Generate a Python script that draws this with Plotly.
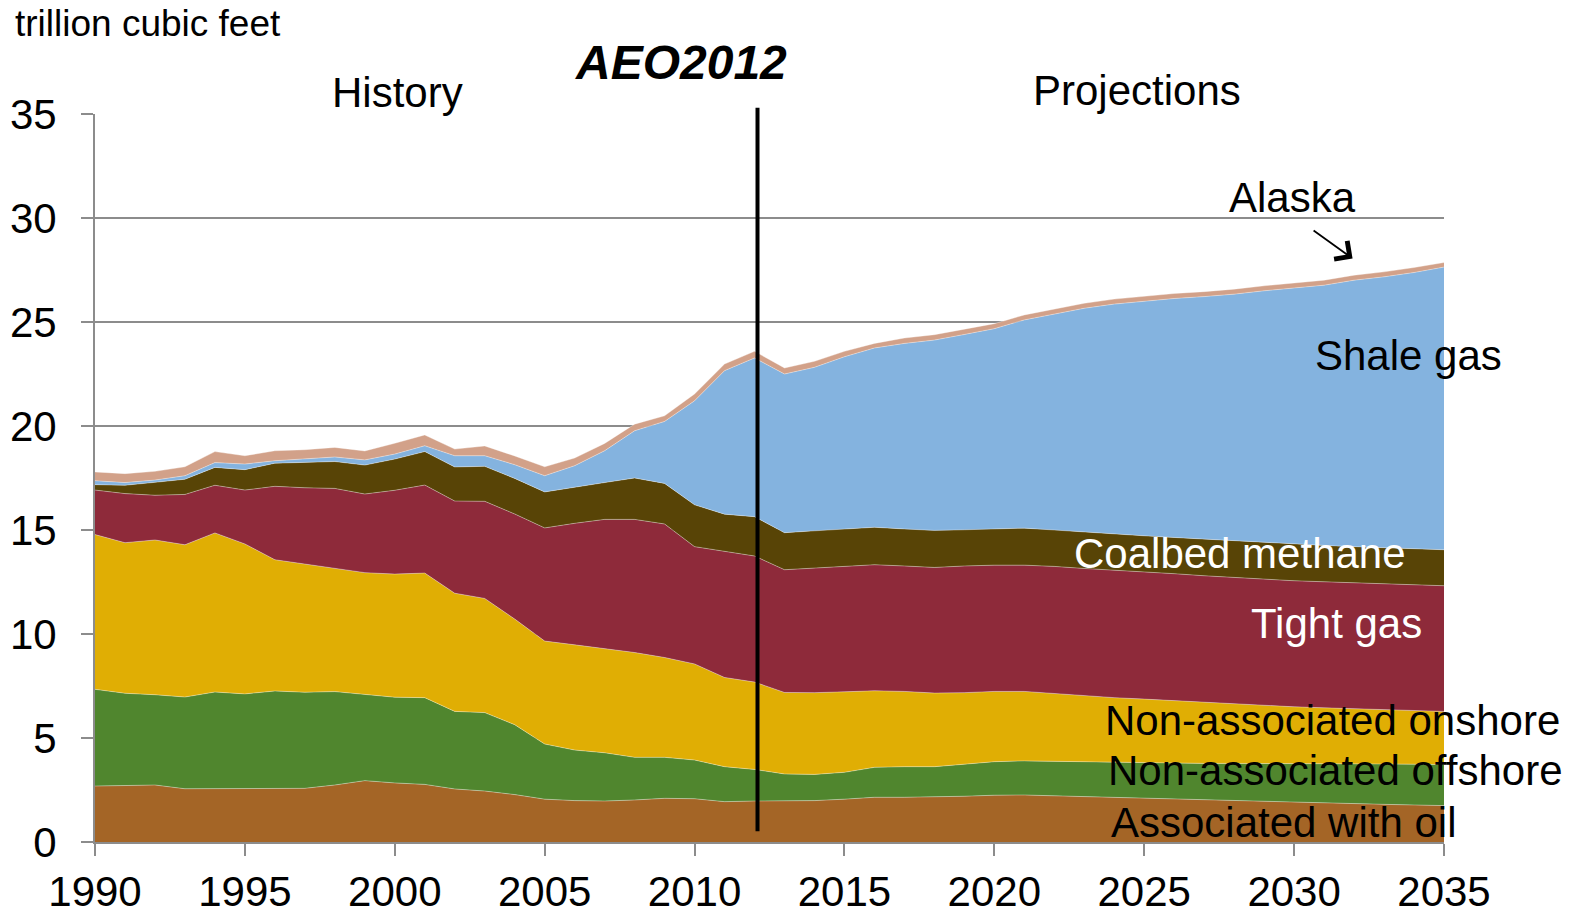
import plotly.graph_objects as go

years = list(range(1990, 2036))

associated_with_oil = [2.69, 2.71, 2.74, 2.56, 2.56, 2.56, 2.55, 2.58, 2.74, 2.95,
                       2.84, 2.77, 2.55, 2.45, 2.28, 2.06, 1.99, 1.97, 2.02, 2.10,
                       2.08, 1.94, 1.97, 1.97, 1.99, 2.06, 2.15, 2.15, 2.16, 2.20,
                       2.25, 2.26, 2.22, 2.18, 2.14, 2.10, 2.06, 2.02, 1.98, 1.94,
                       1.90, 1.87, 1.84, 1.81, 1.78, 1.75]
non_assoc_offshore = [4.65, 4.44, 4.34, 4.41, 4.65, 4.56, 4.71, 4.62, 4.49, 4.15,
                      4.12, 4.17, 3.73, 3.77, 3.36, 2.65, 2.43, 2.32, 2.05, 1.97,
                      1.86, 1.68, 1.52, 1.30, 1.26, 1.29, 1.44, 1.47, 1.46, 1.54,
                      1.61, 1.64, 1.66, 1.66, 1.67, 1.69, 1.72, 1.76, 1.80, 1.84,
                      1.88, 1.90, 1.92, 1.94, 1.96, 1.97]
non_assoc_onshore = [7.44, 7.24, 7.44, 7.32, 7.65, 7.21, 6.31, 6.17, 5.93, 5.85,
                     5.92, 5.99, 5.68, 5.49, 5.08, 4.95, 5.06, 5.01, 5.04, 4.80,
                     4.62, 4.29, 4.20, 3.92, 3.93, 3.87, 3.68, 3.62, 3.54, 3.44,
                     3.38, 3.34, 3.26, 3.18, 3.13, 3.08, 3.01, 2.93, 2.85, 2.79,
                     2.72, 2.68, 2.64, 2.61, 2.58, 2.56]
tight_gas = [2.14, 2.36, 2.15, 2.42, 2.29, 2.59, 3.53, 3.66, 3.84, 3.78,
             4.03, 4.23, 4.43, 4.67, 5.05, 5.44, 5.84, 6.21, 6.40, 6.42,
             5.64, 6.06, 6.06, 5.90, 5.99, 6.05, 6.06, 6.03, 6.04, 6.09,
             6.07, 6.07, 6.11, 6.13, 6.13, 6.13, 6.11, 6.09, 6.08, 6.06,
             6.06, 6.06, 6.06, 6.05, 6.04, 6.04]
coalbed_methane = [0.26, 0.40, 0.62, 0.73, 0.86, 0.98, 1.11, 1.22, 1.29, 1.39,
                   1.50, 1.61, 1.64, 1.68, 1.71, 1.73, 1.72, 1.77, 1.99, 1.95,
                   2.01, 1.79, 1.89, 1.78, 1.79, 1.79, 1.80, 1.78, 1.78, 1.74,
                   1.74, 1.78, 1.75, 1.75, 1.73, 1.72, 1.74, 1.76, 1.77, 1.77,
                   1.76, 1.75, 1.74, 1.73, 1.72, 1.73]
shale_gas = [0.19, 0.13, 0.11, 0.17, 0.23, 0.27, 0.12, 0.16, 0.22, 0.25,
             0.24, 0.28, 0.54, 0.51, 0.66, 0.78, 1.05, 1.53, 2.27, 2.98,
             5.00, 6.90, 7.63, 7.63, 7.86, 8.27, 8.62, 8.92, 9.15, 9.39,
             9.63, 10.01, 10.38, 10.76, 11.06, 11.27, 11.49, 11.66, 11.86, 12.10,
             12.31, 12.51, 12.81, 13.03, 13.30, 13.59]
alaska = [0.42, 0.43, 0.42, 0.43, 0.53, 0.40, 0.48, 0.45, 0.46, 0.43,
          0.52, 0.52, 0.32, 0.47, 0.42, 0.43, 0.37, 0.35, 0.32, 0.27,
          0.33, 0.32, 0.32, 0.29, 0.29, 0.26, 0.22, 0.26, 0.26, 0.25,
          0.24, 0.24, 0.24, 0.24, 0.24, 0.24, 0.24, 0.24, 0.24, 0.24,
          0.24, 0.24, 0.24, 0.24, 0.24, 0.22]

series_names = ["Associated with oil", "Non-associated offshore", "Non-associated onshore",
                "Tight gas", "Coalbed methane", "Shale gas", "Alaska"]
series_values = [associated_with_oil, non_assoc_offshore, non_assoc_onshore,
                 tight_gas, coalbed_methane, shale_gas, alaska]
series_colors = ["#A46526", "#50862E", "#E0AE04", "#8E2A3A", "#584406", "#84B3DF", "#D2A189"]

x_ticks = list(range(1990, 2036, 5))
y_ticks = list(range(0, 36, 5))

FONT = "Liberation Sans, Arial, sans-serif"
FS = 42

fig = go.Figure()
for name, vals, col in zip(series_names, series_values, series_colors):
    fig.add_trace(go.Scatter(
        x=years, y=vals, name=name, mode="lines", stackgroup="one",
        fillcolor=col, line=dict(color="rgba(255,255,255,0.35)", width=1),
        showlegend=False, hoverinfo="x+y+name",
    ))

fig.update_layout(
    width=1575, height=911,
    margin=dict(l=95, r=131, t=114, b=69),
    paper_bgcolor="white", plot_bgcolor="white",
    font=dict(family=FONT, size=FS, color="black"),
    showlegend=False,
)
fig.update_xaxes(
    range=[1990, 2035], tickvals=x_ticks, ticktext=[str(v) for v in x_ticks],
    showgrid=False, zeroline=False, showline=True, linecolor="#8c8c8c", linewidth=2,
    ticks="outside", ticklen=12, tickwidth=2, tickcolor="#8c8c8c",
    tickfont=dict(family=FONT, size=FS, color="black"), automargin=False,
)
fig.update_yaxes(
    range=[0, 35], tickvals=y_ticks, ticktext=[str(v) for v in y_ticks],
    showgrid=True, gridcolor="#8c8c8c", gridwidth=2, zeroline=False,
    showline=True, linecolor="#8c8c8c", linewidth=2,
    ticks="outside", ticklen=12, tickwidth=2, tickcolor="#8c8c8c",
    tickfont=dict(family=FONT, size=FS, color="black"), automargin=False,
    ticklabelstandoff=16,
)

# AEO2012 divider line
fig.add_shape(type="line", xref="x", yref="paper", x0=2012.1, x1=2012.1,
              y0=0.0147, y1=1.0085, line=dict(color="black", width=4))

def txt(text, x, y, size=FS, color="black", xanchor="left", bold_italic=False, xref="x", yref="y"):
    t = f"<b><i>{text}</i></b>" if bold_italic else text
    fig.add_annotation(text=t, x=x, y=y, xref=xref, yref=yref, showarrow=False,
                       xanchor=xanchor, yanchor="middle",
                       font=dict(family=FONT, size=size, color=color))

txt("trillion cubic feet", -0.0608, 1.1246, size=37, xref="paper", yref="paper")
txt("History", 0.2246, 1.0298, xanchor="center", xref="paper", yref="paper")
txt("Projections", 0.7724, 1.0326, xanchor="center", xref="paper", yref="paper")
txt("AEO2012", 0.4344, 1.0703, size=48, xanchor="center", bold_italic=True,
    xref="paper", yref="paper")
txt("Alaska", 2029.96, 30.97, xanchor="center")
txt("Shale gas", 2030.63, 23.37)
txt("Coalbed methane", 2022.59, 13.86, color="white")
txt("Tight gas", 2028.5, 10.52, color="white")
txt("Non-associated onshore", 2023.62, 5.84)
txt("Non-associated offshore", 2023.72, 3.42)
txt("Associated with oil", 2023.82, 0.96)

fig.add_annotation(x=2031.95, y=28.05, ax=2030.6, ay=29.45, xref="x", yref="y",
                   axref="x", ayref="y", text="", showarrow=True, arrowhead=4,
                   arrowsize=2.4, arrowwidth=1.8, arrowcolor="black")

fig.write_html("out.html", config={"displayModeBar": False},
               post_script="document.body.style.margin='0';document.body.style.overflow='hidden';")
